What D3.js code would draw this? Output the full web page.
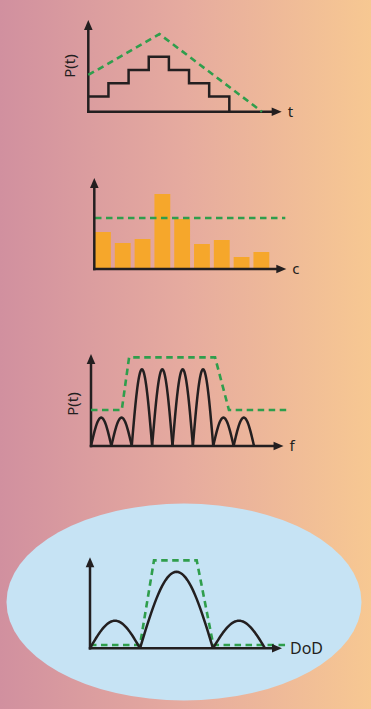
<!DOCTYPE html>
<html>
<head>
<meta charset="utf-8">
<script src="https://cdn.jsdelivr.net/npm/d3@7"></script>
<style>
  html, body { margin: 0; padding: 0; }
  body { width: 371px; height: 709px; overflow: hidden; }
  svg { display: block; }
</style>
</head>
<body>
<svg id="fig" width="371" height="709"></svg>
<script>
// ---- Panel 1: stepped power profile P(t) with triangular envelope
const stepLevels = [1.1, 2.07, 3.03, 4.0, 3.03, 2.07, 1.1];   // one level per time slot
const envelopeT = [0, 3.53, 8.62];
const envelopeP = [2.67, 5.65, 0];

// ---- Panel 2: values per category c with a flat threshold
const barCategories = ["1", "2", "3", "4", "5", "6", "7", "8", "9"];
const barValues = [3.7, 2.6, 3.0, 7.5, 5.0, 2.5, 2.9, 1.2, 1.7];
const barThreshold = 5.1;

// ---- Panel 3: spectral lobes over f with a spectral mask
const lobeHeights = [0.37, 0.37, 1.0, 1.0, 1.0, 1.0, 0.37, 0.37];  // one lobe per unit of f
const maskF = [0, 1.51, 1.87, 6.09, 6.77, 9.6];
const maskP = [0.47, 0.47, 1.156, 1.156, 0.47, 0.47];

// ---- Panel 4: response over DoD with a mask
const dodZeros = [0, 5, 12.3, 17.5];
const dodLobeHeights = [0.36, 1.0, 0.36];
const dodMaskX = [0, 5, 6.4, 10.67, 12.33, 19.67];
const dodMaskY = [0.043, 0.043, 1.15, 1.15, 0.043, 0.043];

const INK = "#231f20";
const GREEN = "#2f9e4c";
const ORANGE = "#f6a72b";
const FONT = "'Noto Sans', 'DejaVu Sans', sans-serif";

const svg = d3.select("#fig");

// background gradient
const defs = svg.append("defs");
const grad = defs.append("linearGradient").attr("id", "bg")
  .attr("x1", "0%").attr("x2", "100%").attr("y1", "0%").attr("y2", "0%");
grad.append("stop").attr("offset", "0%").attr("stop-color", "#d1909f");
grad.append("stop").attr("offset", "50%").attr("stop-color", "#e6ab9f");
grad.append("stop").attr("offset", "100%").attr("stop-color", "#f7c892");
svg.append("rect").attr("width", 371).attr("height", 709).attr("fill", "url(#bg)");

// light blue ellipse behind the last panel
svg.append("ellipse")
  .attr("cx", 184).attr("cy", 602).attr("rx", 177.5).attr("ry", 98.5)
  .attr("fill", "#c6e3f4");

// draws an L-shaped pair of axes with arrowheads from a pair of scales
function drawAxes(g, x, y, xMax, yMax, xLabel, yLabel) {
  const x0 = x(0), y0 = y(0), xe = x(xMax), ye = y(yMax);
  const axisG = g.append("g");
  // y axis as a d3 axis with no ticks
  axisG.append("g").attr("transform", `translate(${x0},0)`)
    .call(d3.axisLeft(y).tickValues([]).tickSizeOuter(0))
    .call(a => a.select(".domain").attr("stroke", INK).attr("stroke-width", 2.5)
      .attr("d", `M0,${y0 + 1.25}V${ye + 6}`));
  axisG.append("g").attr("transform", `translate(0,${y0})`)
    .call(d3.axisBottom(x).tickValues([]).tickSizeOuter(0))
    .call(a => a.select(".domain").attr("stroke", INK).attr("stroke-width", 2.5)
      .attr("d", `M${x0 - 1.25},0H${xe - 6}`));
  // arrowheads
  axisG.append("path").attr("fill", INK)
    .attr("d", `M${x0},${ye} L${x0 - 4.3},${ye + 10} L${x0 + 4.3},${ye + 10} Z`);
  axisG.append("path").attr("fill", INK)
    .attr("d", `M${xe},${y0} L${xe - 10},${y0 - 4.3} L${xe - 10},${y0 + 4.3} Z`);
  if (xLabel) {
    g.append("text").attr("x", xe + 6).attr("y", y0).attr("dy", "0.35em")
      .attr("font-family", FONT).attr("font-size", xLabel.size).attr("fill", INK)
      .text(xLabel.text);
  }
  if (yLabel) {
    g.append("text")
      .attr("transform", `translate(${x0 - 13},${yLabel.cy}) rotate(-90)`)
      .attr("text-anchor", "middle")
      .attr("font-family", FONT).attr("font-size", 15).attr("fill", INK)
      .text(yLabel.text);
  }
}

const dashStyle = s => s.attr("fill", "none").attr("stroke", GREEN)
  .attr("stroke-width", 2.6).attr("stroke-dasharray", "6.5,4.5");
const inkStyle = s => s.attr("fill", "none").attr("stroke", INK)
  .attr("stroke-width", 2.5).attr("stroke-linejoin", "miter");

// sine-shaped arch sampled between two zeros
function archPoints(a, b, h) {
  return d3.range(0, 41).map(i => {
    const u = i / 40;
    return [a + (b - a) * u, h * Math.sin(Math.PI * u)];
  });
}

// ================= Panel 1 =================
{
  const g = svg.append("g");
  const x = d3.scaleLinear().domain([0, 9.6]).range([88.3, 281.7]);
  const y = d3.scaleLinear().domain([0, 6.67]).range([111.7, 20]);

  drawAxes(g, x, y, 9.6, 6.67, { text: "t", size: 15 }, { text: "P(t)", cy: 66 });

  const line = d3.line().x(d => x(d[0])).y(d => y(d[1]));
  const env = envelopeT.map((t, i) => [t, envelopeP[i]]);
  g.append("path").datum(env).call(dashStyle).attr("d", line);

  // staircase: each level occupies one unit of t
  const stair = [];
  stepLevels.forEach((v, i) => { stair.push([i, v]); stair.push([i + 1, v]); });
  stair.push([stepLevels.length, 0]);
  g.append("path").datum(stair).call(inkStyle).attr("d", line);
}

// ================= Panel 2 =================
{
  const g = svg.append("g");
  const xb = d3.scaleBand().domain(barCategories).range([95, 269.3])
    .paddingInner(0.2).paddingOuter(0);
  const y = d3.scaleLinear().domain([0, 9.1]).range([269, 178]);
  const x = d3.scaleLinear().domain([0, 19.2]).range([94.3, 286.3]);

  g.selectAll("rect.bar").data(barValues).join("rect")
    .attr("class", "bar")
    .attr("x", (d, i) => xb(barCategories[i]))
    .attr("width", xb.bandwidth())
    .attr("y", d => y(d))
    .attr("height", d => y(0) - y(d))
    .attr("fill", ORANGE);

  g.append("path").datum([[0.07, barThreshold], [19.1, barThreshold]]).call(dashStyle)
    .attr("d", d3.line().x(d => x(d[0])).y(d => y(d[1])));

  drawAxes(g, x, y, 19.2, 9.1, { text: "c", size: 15 }, null);
}

// ================= Panel 3 =================
{
  const g = svg.append("g");
  const x = d3.scaleLinear().domain([0, 9.6]).range([91, 286.6]);
  const y = d3.scaleLinear().domain([0, 1.2]).range([446, 354]);

  drawAxes(g, x, y, 9.45, 1.2, { text: "f", size: 15 }, { text: "P(t)", cy: 404 });

  const line = d3.line().x(d => x(d[0])).y(d => y(d[1]));
  lobeHeights.forEach((h, i) => {
    g.append("path").datum(archPoints(i, i + 1, h)).call(inkStyle).attr("d", line);
  });

  const mask = maskF.map((f, i) => [f, maskP[i]]);
  g.append("path").datum(mask).call(dashStyle).attr("d", line);
}

// ================= Panel 4 =================
{
  const g = svg.append("g");
  const x = d3.scaleLinear().domain([0, 19.2]).range([90, 282]);
  const y = d3.scaleLinear().domain([0, 1.19]).range([648.3, 557.3]);

  const line = d3.line().x(d => x(d[0])).y(d => y(d[1]));
  const mask = dodMaskX.map((v, i) => [v, dodMaskY[i]]);
  g.append("path").datum(mask).call(dashStyle).attr("d", line);

  drawAxes(g, x, y, 19.2, 1.19, null, null);

  dodLobeHeights.forEach((h, i) => {
    g.append("path").datum(archPoints(dodZeros[i], dodZeros[i + 1], h)).call(inkStyle).attr("d", line);
  });

  g.append("text").attr("x", x(20)).attr("y", y(0)).attr("dy", "0.36em")
    .attr("font-family", FONT).attr("font-size", 16).attr("fill", INK)
    .text("DoD");
}
</script>
</body>
</html>
